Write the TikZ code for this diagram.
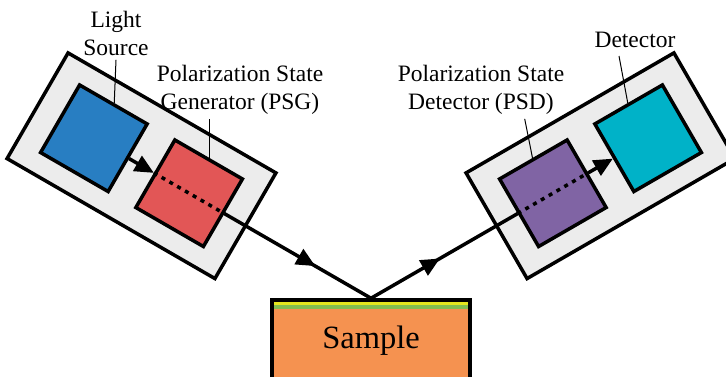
\documentclass[tikz,border=0pt]{standalone}
\usepackage{fontspec}
\setmainfont{Liberation Serif}
\usetikzlibrary{arrows.meta,calc,positioning,decorations.markings}

\definecolor{unitgray}{RGB}{236,236,236}
\definecolor{srcblue}{RGB}{40,126,194}
\definecolor{psgred}{RGB}{226,86,86}
\definecolor{psdpurple}{RGB}{128,100,164}
\definecolor{detcyan}{RGB}{0,178,200}
\definecolor{sampleorange}{RGB}{245,146,80}
\definecolor{filmyellow}{RGB}{228,230,30}
\definecolor{filmgreen}{RGB}{130,190,80}

\begin{document}
\begin{tikzpicture}[x=1pt,y=1pt,
    unit/.style={draw,line width=3.5pt,fill=unitgray,minimum width=240pt,
                 minimum height=122pt,inner sep=0pt},
    part/.style={draw,line width=3.5pt,minimum size=78pt,inner sep=0pt},
    beam/.style={line width=3.5pt},
    leader/.style={line width=1pt},
    tag/.style={align=center,inner sep=4pt,font=\fontsize{23.5}{28}\selectfont},
    sample/.style={draw,line width=3.5pt,fill=sampleorange,minimum width=198pt,
                   minimum height=82pt,font=\fontsize{32.5}{38}\selectfont,
                   path picture={
                     \fill [filmgreen] ($(path picture bounding box.north west)+(0,-8.5)$)
                       rectangle (path picture bounding box.north east) ;
                     \fill [filmyellow] ($(path picture bounding box.north west)+(0,-5)$)
                       rectangle (path picture bounding box.north east) ;
                   }},
    tip/.style={-{Triangle[length=19pt,width=17pt]}}]

  \useasboundingbox (0,0) rectangle (726,376) ;
%
  \node [sample] (sample) at (371,35) {Sample} ;
  \coordinate (hit) at (sample.north) ;
%
  \node [unit,rotate=-30] (psgunit) at ($(hit)+(150:265)$) {} ;
  \node [unit,rotate=30]  (psdunit) at ($(hit)+(30:265)$)  {} ;
%
  \node [part,rotate=-30,fill=srcblue]  (source)   at ($(psgunit.center)+(150:55)$) {} ;
  \node [part,rotate=-30,fill=psgred]   (psg)      at ($(psgunit.center)+(-30:55)$) {} ;
  \node [part,rotate=30,fill=psdpurple] (psd)      at ($(psdunit.center)+(210:55)$) {} ;
  \node [part,rotate=30,fill=detcyan]   (detector) at ($(psdunit.center)+(30:55)$)  {} ;
%
  \draw [beam,tip] (source.east) -- (psg.west) ;
  \draw [beam,dash pattern=on 4pt off 5pt] (psg.west) -- (psg.east) ;
  \draw [beam,postaction={decorate},
         decoration={markings,
           mark=at position 0.31 with {\arrow{Triangle[length=19pt,width=17pt]}},
           mark=at position 0.735 with {\arrow{Triangle[length=19pt,width=17pt]}}}]
    (psg.east) -- (hit) -- (psd.west) ;
  \draw [beam,dash pattern=on 4pt off 5pt] (psd.west) -- (psd.east) ;
  \draw [beam,tip] (psd.east) -- (detector.west) ;
%
  \node [tag] (sourcelabel) at (116,342.5) {Light\\Source} ;
  \node [tag] (psglabel)    at (240,286)   {Polarization State\\Generator (PSG)} ;
  \node [tag] (psdlabel)    at (481,286)   {Polarization State\\Detector (PSD)} ;
  \node [tag] (detlabel)    at (635,336)   {Detector} ;
%
  \draw [leader] (sourcelabel.south) -- (source.north) ;
  \draw [leader] (psg.north) -- (psg.north |- psglabel.south) ;
  \draw [leader] (psd.north) -- ($(psdlabel.south)!0.5!(psdlabel.south east)$) ;
  \draw [leader] (detector.north) -- ($(detlabel.south)+(-16,-4)$) ;

\end{tikzpicture}
\end{document}
